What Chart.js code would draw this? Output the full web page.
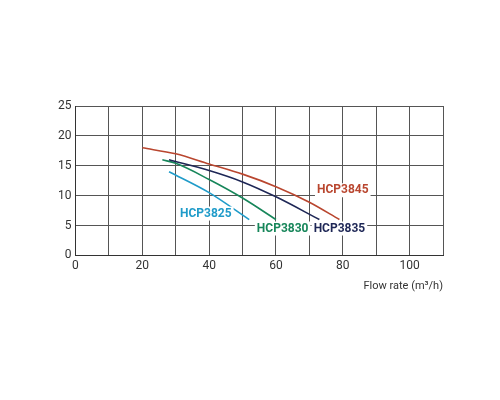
<!DOCTYPE html>
<html>
<head>
<meta charset="utf-8">
<script src="https://cdn.jsdelivr.net/npm/chart.js@4"></script>
<style>
  html, body { margin: 0; padding: 0; background: #fff; }
  #wrap { width: 500px; height: 400px; position: relative; }
</style>
</head>
<body>
<div id="wrap"><canvas id="c"></canvas></div>
<script>
var seriesNames = ["HCP3845", "HCP3835", "HCP3830", "HCP3825"];
var seriesColors = ["#b9462f", "#1e2756", "#17865a", "#1f9bc9"];
var flow3845 = [20, 30, 40, 50, 60, 70, 79];
var head3845 = [18, 17, 15.3, 13.6, 11.5, 8.9, 6];
var flow3835 = [28, 40, 50, 60, 73];
var head3835 = [16, 14.2, 12.3, 9.8, 6];
var flow3830 = [26, 30, 40, 50, 60];
var head3830 = [16, 15.4, 12.7, 9.6, 6];
var flow3825 = [28, 40, 52];
var head3825 = [14, 10.5, 6];
// label anchor points in data units
var labelX = [80, 79, 62, 39];
var labelY = [10.9, 4.5, 4.5, 7];
var xTicks = [0, 20, 40, 60, 80, 100];

function pts(xs, ys) {
    return xs.map(function(x, i) { return { x: x, y: ys[i] }; });
}
var flows = [flow3845, flow3835, flow3830, flow3825];
var heads = [head3845, head3835, head3830, head3825];

var datasets = seriesNames.map(function(name, i) {
    return {
        label: name,
        data: pts(flows[i], heads[i]),
        borderColor: seriesColors[i],
        borderWidth: 1.6,
        pointRadius: 0,
        cubicInterpolationMode: "monotone",
        fill: false
    };
});

var labelPlugin = {
    id: "curveLabels",
    afterDatasetsDraw: function(chart) {
        var ctx = chart.ctx;
        var xs = chart.scales.x, ys = chart.scales.y;
        ctx.save();
        ctx.font = "bold 12px Roboto, sans-serif";
        ctx.textAlign = "center";
        ctx.textBaseline = "middle";
        seriesNames.forEach(function(name, i) {
            var px = xs.getPixelForValue(labelX[i]);
            var py = ys.getPixelForValue(labelY[i]);
            var w = ctx.measureText(name).width;
            ctx.fillStyle = "#fff";
            ctx.fillRect(px - w / 2 - 2, py - 7, w + 4, 14);
            ctx.fillStyle = seriesColors[i];
            ctx.fillText(name, px, py);
        });
        ctx.restore();
    }
};

new Chart(document.getElementById("c"), {
    type: "line",
    data: { datasets: datasets },
    options: {
        responsive: true,
        maintainAspectRatio: false,
        animation: false,
        layout: { padding: { left: 54, right: 57, top: 106, bottom: 103 } },
        plugins: { legend: { display: false }, tooltip: { enabled: false } },
        scales: {
            x: {
                type: "linear", min: 0, max: 110,
                afterBuildTicks: function(axis) {
                    axis.ticks = [];
                    for (var v = 0; v <= 110; v += 10) axis.ticks.push({ value: v });
                },
                grid: { color: "#555", lineWidth: 1, drawTicks: false },
                border: { color: "#333" },
                ticks: {
                    padding: 3, color: "#333",
                    font: { family: "Roboto, sans-serif", size: 12 },
                    callback: function(v) { return xTicks.indexOf(v) >= 0 ? v : ""; }
                },
                title: {
                    display: true, text: "Flow rate (m³/h)", align: "end",
                    color: "#333", font: { family: "Roboto, sans-serif", size: 11 },
                    padding: { top: 4 }
                }
            },
            y: {
                min: 0, max: 25,
                grid: { color: "#555", lineWidth: 1, drawTicks: false },
                border: { color: "#333" },
                ticks: {
                    stepSize: 5, padding: 4, color: "#333",
                    font: { family: "Roboto, sans-serif", size: 12 }
                }
            }
        }
    },
    plugins: [labelPlugin]
});
</script>
</body>
</html>
